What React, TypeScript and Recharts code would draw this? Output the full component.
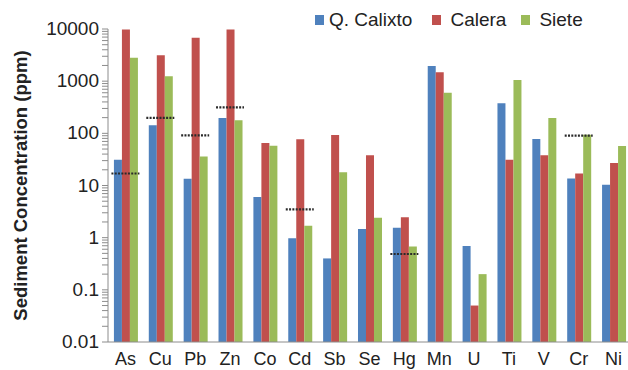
import React from 'react';
import { ComposedChart, Bar, Scatter, XAxis, YAxis, Legend, Label } from 'recharts';

const elements = ['As', 'Cu', 'Pb', 'Zn', 'Co', 'Cd', 'Sb', 'Se', 'Hg', 'Mn', 'U', 'Ti', 'V', 'Cr', 'Ni'];
const calixto = [31, 143, 13.4, 197, 6.0, 0.97, 0.4, 1.47, 1.55, 1960, 0.69, 377, 78, 13.6, 10.3];
const calera = [9800, 3130, 6800, 9800, 65, 77, 93, 38, 2.45, 1480, 0.05, 31, 38, 17, 27];
const siete = [2800, 1240, 36, 178, 58, 1.7, 18, 2.4, 0.68, 600, 0.2, 1050, 197, 94, 57];
// sediment guideline (dashed marks)
const guideline = [17, 197, 91.3, 315, null, 3.5, null, null, 0.486, null, null, null, null, 90, null];

const majorTicks = [0.01, 0.1, 1, 10, 100, 1000, 10000];
const minorMult = [2, 3, 4, 5, 6, 7, 8, 9];
const allTicks = [
  ...majorTicks,
  ...majorTicks.slice(0, -1).flatMap((d) => minorMult.map((m) => Number((d * m).toPrecision(2)))),
].sort((a, b) => a - b);

const seriesNames = ['Q. Calixto', 'Calera', 'Siete'];
const colors = ['#4F81BD', '#C0504D', '#9BBB59'];

const data = elements.map((name, i) => ({
  name,
  calixto: calixto[i],
  calera: calera[i],
  siete: siete[i],
  pel: guideline[i],
}));

const FONT = '"Liberation Sans", Arial, sans-serif';

const YTick = (props: any) => {
  const { x, y, payload } = props;
  const major = majorTicks.includes(payload.value);
  return (
    <g>
      <line x1={x - 6} x2={x} y1={y} y2={y} stroke="#8c8c8c" strokeWidth={1} />
      {major && (
        <text x={x - 9} y={y} dy={6} textAnchor="end" fontSize={19} fill="#222" fontFamily={FONT}>
          {String(payload.value)}
        </text>
      )}
    </g>
  );
};

const XTick = (props: any) => {
  const { x, y, payload } = props;
  return (
    <text x={x} y={y} dy={15} textAnchor="middle" fontSize={18} fill="#222" fontFamily={FONT}>
      {payload.value}
    </text>
  );
};

const GuideMark = (props: any) => {
  const { cx, cy, payload } = props;
  if (payload == null || payload.pel == null || !Number.isFinite(cx) || !Number.isFinite(cy)) return <g />;
  return (
    <line x1={cx - 14} x2={cx + 14} y1={cy} y2={cy} stroke="#2a2a2a" strokeWidth={2.2} strokeDasharray="2 1.3" />
  );
};

const LegendBox = () => {
  const gaps = [0, 20, 15];
  return (
    <div style={{ display: 'flex', alignItems: 'center', fontFamily: FONT, fontSize: 19, color: '#222' }}>
      {seriesNames.map((n, i) => (
        <div key={n} style={{ display: 'flex', alignItems: 'center', marginLeft: gaps[i] }}>
          <span style={{ width: 9, height: 10, background: colors[i], display: 'inline-block', marginRight: i === 0 ? 5 : 9 }} />
          <span>{n}</span>
        </div>
      ))}
    </div>
  );
};

export default function App() {
  return (
    <div style={{ position: 'absolute', left: 0, top: 0, width: 628, height: 370, overflow: 'hidden', background: '#fff' }}>
      <ComposedChart
        width={640}
        height={370}
        data={data}
        margin={{ top: 29, right: 9, left: 0, bottom: 0 }}
        barCategoryGap="17%"
        barGap={0}
      >
        <XAxis
          dataKey="name"
          type="category"
          height={28}
          tickLine={false}
          axisLine={{ stroke: '#8c8c8c' }}
          tick={<XTick />}
          interval={0}
        />
        <YAxis
          type="number"
          scale="log"
          domain={[0.01, 10000]}
          allowDataOverflow
          ticks={allTicks}
          interval={0}
          width={108}
          tickSize={0}
          tickMargin={0}
          tickLine={false}
          axisLine={{ stroke: '#8c8c8c' }}
          tick={<YTick />}
        >
          <Label
            content={({ viewBox }: any) => (
              <text
                x={20}
                y={viewBox.y + viewBox.height / 2}
                transform={`rotate(-90 20 ${viewBox.y + viewBox.height / 2})`}
                textAnchor="middle"
                dominantBaseline="central"
                fontSize={18.5}
                fontWeight="bold"
                fill="#222"
                fontFamily={FONT}
              >
                Sediment Concentration (ppm)
              </text>
            )}
          />
        </YAxis>
        <Legend
          layout="horizontal"
          verticalAlign="middle"
          align="center"
          wrapperStyle={{ top: 9, left: 315, width: 300, height: 26 }}
          content={<LegendBox />}
        />
        <Bar dataKey="calixto" name={seriesNames[0]} fill={colors[0]} isAnimationActive={false} />
        <Bar dataKey="calera" name={seriesNames[1]} fill={colors[1]} isAnimationActive={false} />
        <Bar dataKey="siete" name={seriesNames[2]} fill={colors[2]} isAnimationActive={false} />
        <Scatter dataKey="pel" shape={<GuideMark />} isAnimationActive={false} legendType="none" />
      </ComposedChart>
    </div>
  );
}
